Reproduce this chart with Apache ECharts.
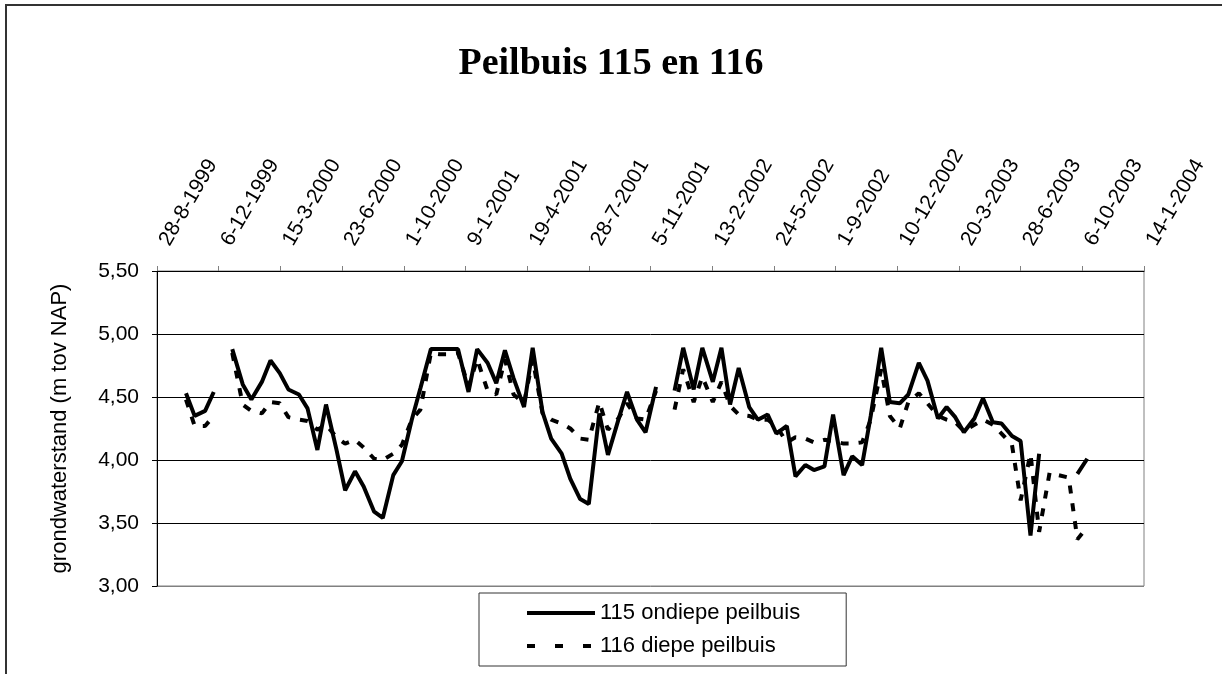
<!DOCTYPE html>
<html>
<head>
<meta charset="utf-8">
<title>Peilbuis 115 en 116</title>
<script src="https://cdn.jsdelivr.net/npm/echarts@6/dist/echarts.min.js"></script>
<style>
  html, body { margin: 0; padding: 0; background: #fff; }
  #chart { width: 1222px; height: 674px; }
</style>
</head>
<body>
<div id="chart"></div>
<script>
// measurement dates (d-m-yyyy), twice a month
const dates = [
  '14-10-1999', '28-10-1999', '14-11-1999', '28-11-1999', '14-12-1999', '28-12-1999',
  '14-1-2000', '28-1-2000', '14-2-2000', '28-2-2000', '14-3-2000', '28-3-2000',
  '14-4-2000', '28-4-2000', '14-5-2000', '28-5-2000', '14-6-2000', '28-6-2000',
  '14-7-2000', '28-7-2000', '14-8-2000', '28-8-2000', '14-9-2000', '28-9-2000',
  '14-10-2000', '28-10-2000', '14-11-2000', '28-11-2000', '14-12-2000', '28-12-2000',
  '14-1-2001', '28-1-2001', '14-2-2001', '28-2-2001', '14-3-2001', '28-3-2001',
  '14-4-2001', '28-4-2001', '14-5-2001', '28-5-2001', '14-6-2001', '28-6-2001',
  '14-7-2001', '28-7-2001', '14-8-2001', '28-8-2001', '14-9-2001', '28-9-2001',
  '14-10-2001', '28-10-2001', '14-11-2001', '28-11-2001', '14-12-2001', '28-12-2001',
  '14-1-2002', '28-1-2002', '14-2-2002', '28-2-2002', '14-3-2002', '28-3-2002',
  '14-4-2002', '28-4-2002', '14-5-2002', '28-5-2002', '14-6-2002', '28-6-2002',
  '14-7-2002', '28-7-2002', '14-8-2002', '28-8-2002', '14-9-2002', '28-9-2002',
  '14-10-2002', '28-10-2002', '14-11-2002', '28-11-2002', '14-12-2002', '28-12-2002',
  '14-1-2003', '28-1-2003', '14-2-2003', '28-2-2003', '14-3-2003', '28-3-2003',
  '14-4-2003', '28-4-2003', '14-5-2003', '28-5-2003', '14-6-2003', '28-6-2003',
  '14-7-2003', '28-7-2003', '14-8-2003', '28-8-2003', '14-9-2003', '28-9-2003',
  '14-10-2003'
];

// 115 ondiepe peilbuis (m tov NAP), null = no measurement
const peil115 = [
  4.53, 4.35, 4.39, 4.54, null, 4.88,
  4.60, 4.48, 4.62, 4.79, 4.69, 4.56,
  4.52, 4.41, 4.08, 4.44, 4.08, 3.76,
  3.91, 3.79, 3.59, 3.54, 3.88, 3.99,
  4.32, 4.57, 4.88, 4.88, 4.88, 4.88,
  4.54, 4.88, 4.77, 4.61, 4.87, 4.65,
  4.42, 4.89, 4.38, 4.17, 4.05, 3.85,
  3.69, 3.65, 4.37, 4.04, 4.32, 4.54,
  4.32, 4.22, 4.58, null, 4.55, 4.89,
  4.56, 4.89, 4.62, 4.89, 4.44, 4.73,
  4.42, 4.32, 4.36, 4.21, 4.27, 3.87,
  3.96, 3.92, 3.95, 4.36, 3.88, 4.03,
  3.96, 4.35, 4.89, 4.46, 4.45, 4.52,
  4.77, 4.63, 4.33, 4.42, 4.34, 4.22,
  4.33, 4.49, 4.30, 4.29, 4.19, 4.15,
  3.40, 4.05, null, null, null, 3.89,
  4.01
];

// 116 diepe peilbuis (m tov NAP)
const peil116 = [
  4.48, 4.27, 4.27, 4.35, null, 4.85,
  4.44, 4.39, 4.37, 4.46, 4.45, 4.34,
  4.32, 4.31, 4.24, 4.28, 4.18, 4.13,
  4.16, 4.10, 4.01, 4.00, 4.05, 4.12,
  4.32, 4.40, 4.85, 4.84, 4.84, 4.85,
  4.58, 4.80, 4.55, 4.52, 4.80, 4.52,
  4.45, 4.80, 4.37, 4.32, 4.29, 4.25,
  4.17, 4.16, 4.46, 4.24, 4.33, 4.45,
  4.33, 4.32, 4.55, null, 4.40, 4.72,
  4.46, 4.66, 4.46, 4.62, 4.43, 4.36,
  4.35, 4.32, 4.32, 4.27, 4.14, 4.18,
  4.17, 4.14, 4.16, 4.15, 4.13, 4.13,
  4.14, 4.32, 4.72, 4.35, 4.25, 4.46,
  4.53, 4.45, 4.35, 4.32, 4.30, 4.23,
  4.28, 4.32, 4.28, 4.21, 4.12, 3.68,
  4.05, 3.43, 3.90, 3.88, 3.86, 3.37,
  3.47
];

// x axis runs in days from the first tick label, one label every 100 days
const axisStart = Date.UTC(1999, 7, 28);
const DAY = 86400000;
const xMin = 0;
const xMax = 1600;
const xStep = 100;

const yMin = 3.0;
const yMax = 5.5;
const yStep = 0.5;

function dayOffset(str) {
  const p = str.split('-').map(Number);
  return Math.round((Date.UTC(p[2], p[1] - 1, p[0]) - axisStart) / DAY);
}

function dayLabel(v) {
  const d = new Date(axisStart + v * DAY);
  return d.getUTCDate() + '-' + (d.getUTCMonth() + 1) + '-' + d.getUTCFullYear();
}

const xs = dates.map(dayOffset);
const font = "'Liberation Sans', Arial, sans-serif";

const chart = echarts.init(document.getElementById('chart'));

const option = {
  animation: false,
  backgroundColor: '#fff',
  title: {
    text: 'Peilbuis 115 en 116',
    left: 'center',
    top: 40,
    textStyle: {
      fontFamily: "'Liberation Serif', serif",
      fontWeight: 'bold',
      fontSize: 38,
      color: '#000',
    },
  },
  // outer chart frame
  graphic: [
    {
      type: 'rect',
      shape: { x: 6, y: 5, width: 1300, height: 800 },
      style: { fill: 'none', stroke: '#333', lineWidth: 2 },
      silent: true,
    },
  ],
  legend: {
    orient: 'vertical',
    left: 479,
    top: 593,
    padding: [9, 46, 9, 46],
    itemWidth: 68,
    itemHeight: 20,
    itemGap: 11,
    borderColor: '#333',
    borderWidth: 1,
    itemStyle: { opacity: 0 },
    textStyle: { fontFamily: font, fontSize: 22, color: '#000' },
    data: [
      { name: '115 ondiepe peilbuis', lineStyle: { width: 4, type: 'solid' } },
      { name: '116 diepe peilbuis', lineStyle: { width: 4, type: [8, 20] } },
    ],
  },
  grid: {
    left: 157,
    right: 78,
    top: 271,
    bottom: 88,
    show: true,
    borderColor: '#808080',
    borderWidth: 1,
  },
  xAxis: {
    type: 'value',
    position: 'top',
    min: xMin,
    max: xMax,
    interval: xStep,
    axisLine: { show: true, lineStyle: { color: '#000', width: 1 } },
    axisTick: { show: true, length: 5, lineStyle: { color: '#808080' } },
    splitLine: { show: false },
    axisLabel: {
      rotate: -60,
      margin: 14,
      padding: [8, 0, 0, 15],
      color: '#000',
      fontFamily: font,
      fontSize: 21,
      formatter: dayLabel,
    },
  },
  yAxis: {
    type: 'value',
    min: yMin,
    max: yMax,
    interval: yStep,
    name: 'grondwaterstand (m tov NAP)',
    nameLocation: 'middle',
    nameGap: 86,
    nameTextStyle: { fontFamily: font, fontSize: 22, color: '#000' },
    axisLine: { show: true, lineStyle: { color: '#000', width: 1 } },
    axisTick: { show: true, length: 5, lineStyle: { color: '#000' } },
    splitLine: {
      show: true,
      lineStyle: { color: ['#808080', '#000', '#000', '#000', '#000', '#000'], width: 1 },
    },
    axisLabel: {
      margin: 18,
      color: '#000',
      fontFamily: font,
      fontSize: 21,
      formatter: (v) => v.toFixed(2).replace('.', ','),
    },
  },
  series: [
    {
      name: '115 ondiepe peilbuis',
      type: 'line',
      symbol: 'none',
      connectNulls: false,
      lineStyle: { color: '#000', width: 4, type: 'solid' },
      itemStyle: { color: '#000' },
      data: xs.map((x, i) => [x, peil115[i]]),
    },
    {
      name: '116 diepe peilbuis',
      type: 'line',
      symbol: 'none',
      connectNulls: false,
      lineStyle: { color: '#000', width: 4, type: [8, 10], cap: 'butt' },
      itemStyle: { color: '#000' },
      data: xs.map((x, i) => [x, peil116[i]]),
    },
  ],
};

chart.setOption(option);
</script>
</body>
</html>
